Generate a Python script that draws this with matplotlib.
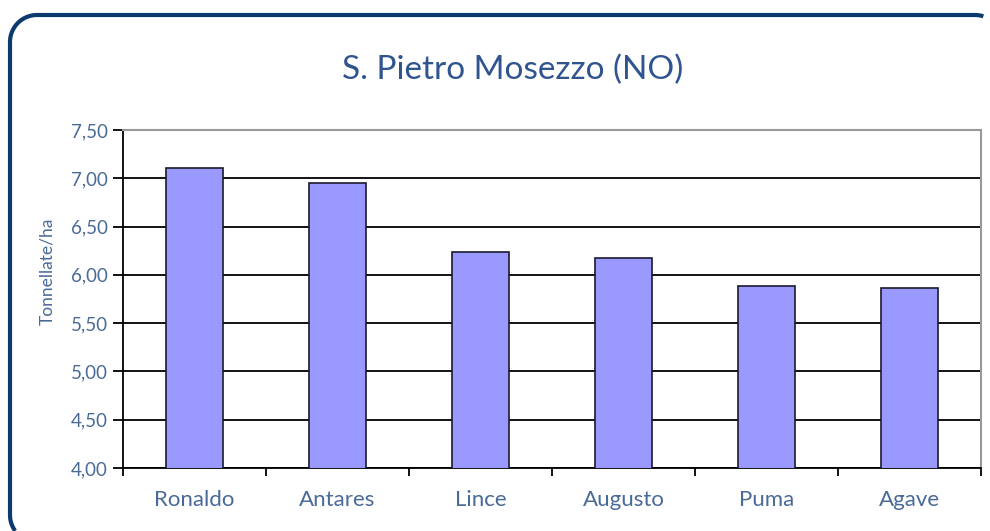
import matplotlib
matplotlib.use("Agg")
import numpy as np
import matplotlib.pyplot as plt
from matplotlib.lines import Line2D
from matplotlib.ticker import FixedLocator
from matplotlib.transforms import IdentityTransform

categories = ["Ronaldo", "Antares", "Lince", "Augusto", "Puma", "Agave"]
values = [7.11, 6.95, 6.24, 6.17, 5.88, 5.86]
yticks = [4.00, 4.50, 5.00, 5.50, 6.00, 6.50, 7.00, 7.50]
ytick_labels = ["4,00", "4,50", "5,00", "5,50", "6,00", "6,50", "7,00", "7,50"]
title = "S. Pietro Mosezzo (NO)"
ylabel = "Tonnellate/ha"

txt = "#4a6a98"
plt.rcParams['font.family'] = ['Lato', 'DejaVu Sans']

fig = plt.figure(figsize=(9.9, 5.31), dpi=100)
W, H = 990, 531

# rounded frame, visible part only (pixel coordinates, origin bottom-left)
r = 27.0
left, right, top, bottom = 10.0, 1002.0, 516.0, -11.0
def arc(cx, cy, a0, a1, n=30):
    t = np.radians(np.linspace(a0, a1, n))
    return cx + r * np.cos(t), cy + r * np.sin(t)
xs, ys = [], []
for seg in [arc(right - r, top - r, 72, 90), arc(left + r, top - r, 90, 180),
            arc(left + r, bottom + r, 180, 216)]:
    xs.extend(seg[0]); ys.extend(seg[1])
frame = Line2D(xs, ys, transform=IdentityTransform(), color="#0b3a6e",
               linewidth=3.0, solid_capstyle="butt")
fig.lines.append(frame)

ax = fig.add_axes([123 / W, 63 / H, (981 - 123) / W, (468 - 130) / H])
x = list(range(len(categories)))
ax.bar(x, values, width=0.4, color="#9999ff", edgecolor="#1a1a2e", linewidth=1.2, zorder=3)
ax.set_xlim(-0.5, len(categories) - 0.5)
ax.set_ylim(4.0, 7.5)
ax.set_yticks(yticks)
ax.set_yticklabels(ytick_labels)
ax.grid(axis="y", color="black", linewidth=1.3, zorder=1)
ax.set_axisbelow(True)
ax.set_xticks(x)
ax.set_xticklabels(categories)
ax.xaxis.set_minor_locator(FixedLocator([i + 0.5 for i in range(-1, len(categories))]))
ax.tick_params(axis="x", which="major", length=0, pad=16, labelsize=16, labelcolor=txt)
ax.tick_params(axis="x", which="minor", length=6, width=1.3, direction="out", color="black")
ax.tick_params(axis="y", length=7, width=1.3, color="black", labelsize=13.5, labelcolor=txt, pad=4)
for s in ["top", "right"]:
    ax.spines[s].set_color("#999999")
    ax.spines[s].set_linewidth(1.5)
for s in ["left", "bottom"]:
    ax.spines[s].set_color("black")
    ax.spines[s].set_linewidth(1.3)
ax.set_ylabel(ylabel, color=txt, fontsize=12.5)
ax.yaxis.set_label_coords((47 - 123) / 858, (468 - 271) / 338)
ax.yaxis.label.set_va("center")
fig.text(513 / W, 1 - 70 / H, title, ha="center", va="center", fontsize=24, color="#2f5490")

fig.savefig("out.png", dpi=100)
